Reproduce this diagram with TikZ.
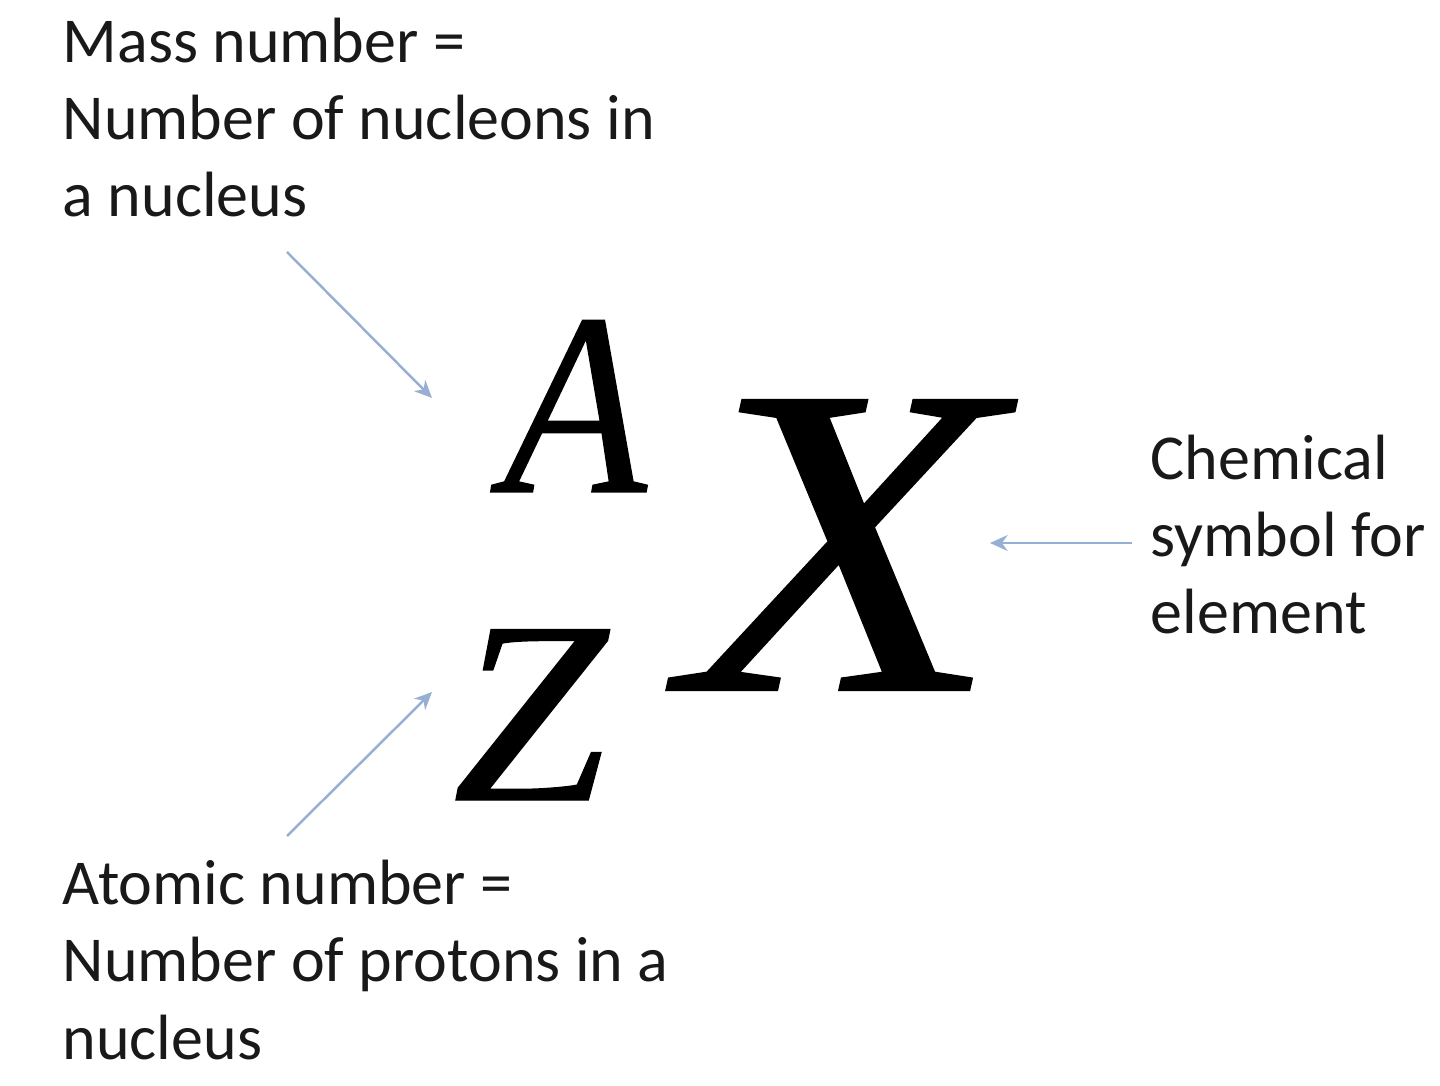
\documentclass[tikz,border=0pt]{standalone}
\usepackage{fontspec}
\setmainfont{Carlito}
\newfontfamily\letterA{Liberation Serif}[UprightFont={* Italic}, FakeStretch=0.9, FakeBold=0.5]
\newfontfamily\letterZ{Liberation Serif}[UprightFont={* Italic}, FakeStretch=1.07, FakeBold=0.5]
\newfontfamily\letterX{Liberation Serif}[UprightFont={* Italic}, FakeStretch=1.17, FakeBold=0.5]
\usetikzlibrary{arrows.meta}
\definecolor{arrowblue}{RGB}{150,175,210}
\definecolor{textblack}{RGB}{25,25,25}
\begin{document}
\begin{tikzpicture}[x=0.01cm,y=-0.01cm]
  \tikzset{label/.style = {
      anchor = base west,
      inner sep = 0pt,
      align = left,
      text = textblack,
      font = \fontsize{18.2pt}{22pt}\selectfont},
    pointer/.style = {
      draw = arrowblue,
      line width = 0.7pt,
      -{Stealth[length=5pt,width=4.5pt]}},
    bigsym/.style = {
      anchor = base,
      inner sep = 0pt}}
  \useasboundingbox (0,0) rectangle (1440,1086);
  % text boxes (anchored at the last line)
  \node[label] (mass) at (62,217) {Mass number =\\Number of nucleons in\\a nucleus};
  \node[label] (atomic) at (62,1059) {Atomic number =\\Number of protons in a\\nucleus};
  \node[label] (chem) at (1150,634) {Chemical\\symbol for\\element};
  % the symbol
  \node[bigsym, font=\letterA\fontsize{74pt}{74pt}\selectfont] (A) at (575,492) {A};
  \node[bigsym, font=\letterZ\fontsize{74pt}{74pt}\selectfont] (Z) at (530,800) {Z};
  \node[bigsym, font=\letterX\fontsize{126pt}{126pt}\selectfont] (X) at (842,690) {X};
  % pointers
  \coordinate (massend) at (287,252);
  \coordinate (massto) at (432,398);
  \coordinate (atomend) at (287,836);
  \coordinate (atomto) at (432,692);
  \coordinate (chemend) at (1132,543);
  \coordinate (chemto) at (990,543);
  \draw[pointer] (massend) -- (massto);
  \draw[pointer] (atomend) -- (atomto);
  \draw[pointer] (chemend) -- (chemto);
\end{tikzpicture}
\end{document}
